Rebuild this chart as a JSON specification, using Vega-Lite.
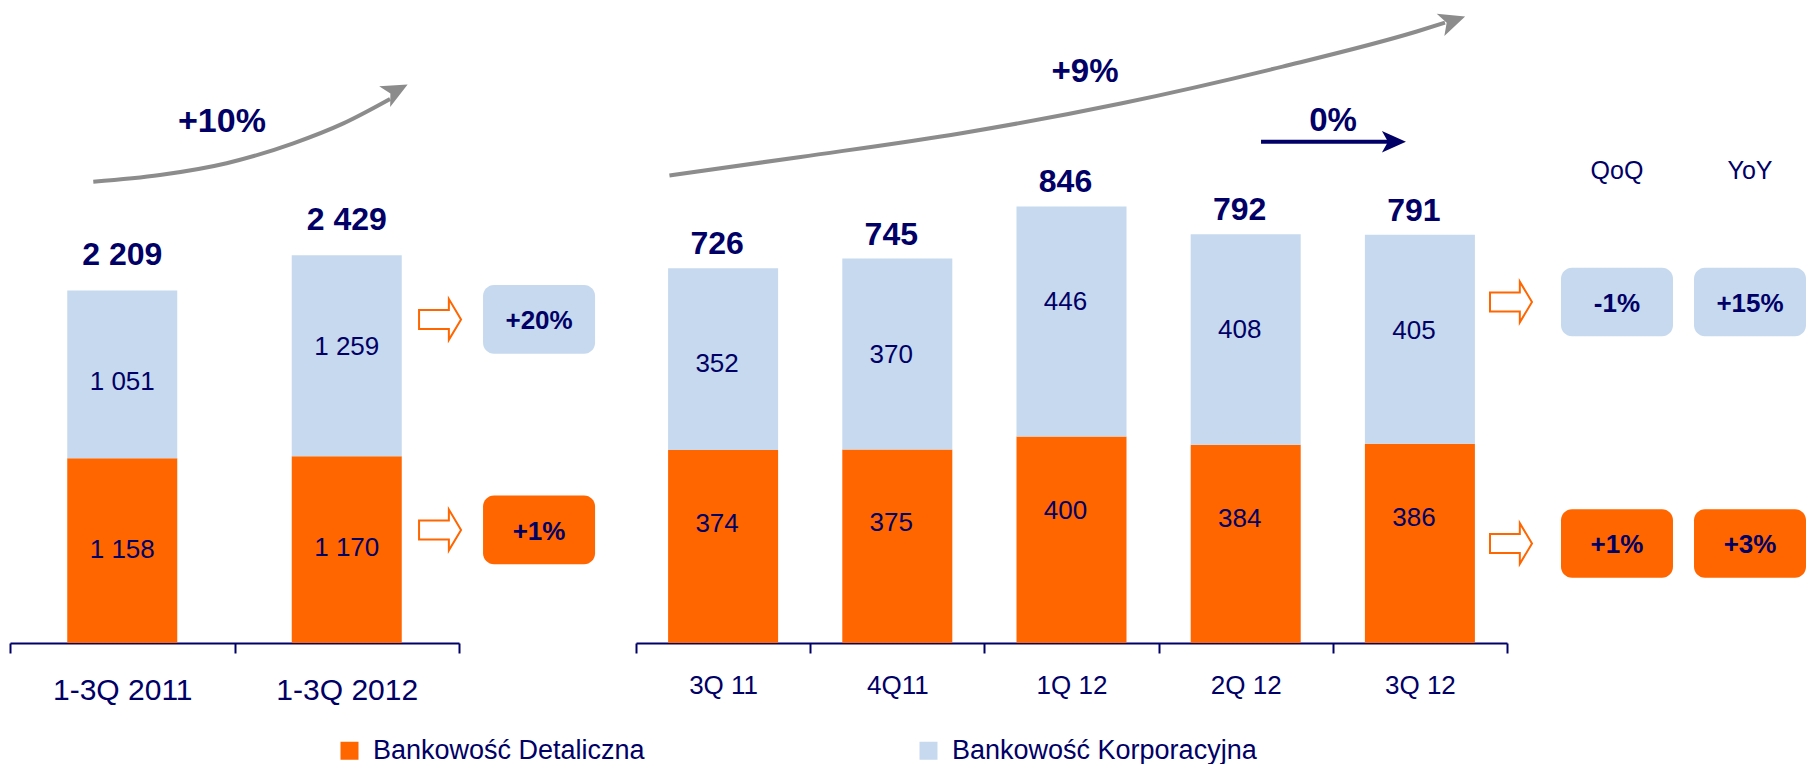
{
  "$schema": "https://vega.github.io/schema/vega-lite/v6.json",
  "background": "white",
  "padding": {"left": 9, "top": 0, "right": 0, "bottom": 0},
  "spacing": 150,
  "bounds": "flush",
  "resolve": {"scale": {"x": "independent", "y": "independent", "color": "shared"}},
  "config": {
    "view": {"stroke": null},
    "font": "Liberation Sans",
    "locale": {"number": {"decimal": ",", "thousands": " ", "grouping": [3], "currency": ["", " zł"]}},
    "legend": {
      "symbolType": "square",
      "symbolSize": 324,
      "symbolStrokeWidth": 0,
      "labelFont": "Liberation Sans",
      "labelFontSize": 27,
      "labelColor": "#000066",
      "labelOffset": 10,
      "columnPadding": 270,
      "labelLimit": 0,
      "padding": 0
    }
  },
  "datasets": {
    "narastajaco": [
      {"okres": "1-3Q 2011", "segment": "Bankowość Detaliczna", "wartosc": 1158},
      {"okres": "1-3Q 2011", "segment": "Bankowość Korporacyjna", "wartosc": 1051},
      {"okres": "1-3Q 2012", "segment": "Bankowość Detaliczna", "wartosc": 1170},
      {"okres": "1-3Q 2012", "segment": "Bankowość Korporacyjna", "wartosc": 1259}
    ],
    "kwartalnie": [
      {"okres": "3Q 11", "segment": "Bankowość Detaliczna", "wartosc": 374},
      {"okres": "3Q 11", "segment": "Bankowość Korporacyjna", "wartosc": 352},
      {"okres": "4Q11", "segment": "Bankowość Detaliczna", "wartosc": 375},
      {"okres": "4Q11", "segment": "Bankowość Korporacyjna", "wartosc": 370},
      {"okres": "1Q 12", "segment": "Bankowość Detaliczna", "wartosc": 400},
      {"okres": "1Q 12", "segment": "Bankowość Korporacyjna", "wartosc": 446},
      {"okres": "2Q 12", "segment": "Bankowość Detaliczna", "wartosc": 384},
      {"okres": "2Q 12", "segment": "Bankowość Korporacyjna", "wartosc": 408},
      {"okres": "3Q 12", "segment": "Bankowość Detaliczna", "wartosc": 386},
      {"okres": "3Q 12", "segment": "Bankowość Korporacyjna", "wartosc": 405}
    ],
    "zmiana_narastajaco": [
      {"kolumna": "1-3Q 2012 / 1-3Q 2011", "segment": "Bankowość Korporacyjna", "zmiana": "+20%"},
      {"kolumna": "1-3Q 2012 / 1-3Q 2011", "segment": "Bankowość Detaliczna", "zmiana": "+1%"}
    ],
    "zmiana_kwartalna": [
      {"kolumna": "QoQ", "segment": "Bankowość Korporacyjna", "zmiana": "-1%"},
      {"kolumna": "YoY", "segment": "Bankowość Korporacyjna", "zmiana": "+15%"},
      {"kolumna": "QoQ", "segment": "Bankowość Detaliczna", "zmiana": "+1%"},
      {"kolumna": "YoY", "segment": "Bankowość Detaliczna", "zmiana": "+3%"}
    ],
    "naglowki": [
      {"kolumna": "QoQ", "segment": "Bankowość Korporacyjna"},
      {"kolumna": "YoY", "segment": "Bankowość Korporacyjna"}
    ],
    "luk_narastajaco": [
      {"t": 0.371, "v": 2890},
      {"t": 0.668, "v": 2932},
      {"t": 0.965, "v": 3006},
      {"t": 1.262, "v": 3131},
      {"t": 1.485, "v": 3256},
      {"t": 1.693, "v": 3409}
    ],
    "grot_narastajaco": [{"t": 1.72, "v": 3462}],
    "etykieta_narastajaco": [{"t": 0.944, "v": 3264, "tekst": "+10%"}],
    "luk_kwartalny": [
      {"t": 0.192, "v": 906},
      {"t": 0.945, "v": 942},
      {"t": 1.868, "v": 988},
      {"t": 2.79, "v": 1046},
      {"t": 3.712, "v": 1117},
      {"t": 4.482, "v": 1185},
      {"t": 4.644, "v": 1202}
    ],
    "grot_kwartalny": [{"t": 4.689, "v": 1206}],
    "etykieta_kwartalna": [{"t": 2.578, "v": 1107, "tekst": "+9%"}],
    "strzalka_qoq": [{"t": 3.588, "t2": 4.33, "v": 971.5}],
    "grot_qoq": [{"t": 4.351, "v": 971.5}],
    "etykieta_qoq": [{"t": 4.001, "v": 1012, "tekst": "0%"}]
  },
  "vconcat": [
    {
      "spacing": 177,
      "bounds": "flush",
      "resolve": {"scale": {"x": "independent", "y": "independent"}},
      "hconcat": [
        {
          "width": 449,
          "height": 150,
          "encoding": {
            "x": {"field": "t", "type": "quantitative", "scale": {"domain": [0, 2], "nice": false, "zero": false}, "axis": null},
            "y": {"field": "v", "type": "quantitative", "scale": {"domain": [3089, 4030], "nice": false, "zero": false}, "axis": null}
          },
          "layer": [
            {"data": {"name": "luk_narastajaco"}, "mark": {"type": "line", "interpolate": "monotone", "color": "#8C8C8C", "strokeWidth": 4}, "encoding": {}},
            {"data": {"name": "grot_narastajaco"}, "mark": {"type": "point", "shape": "M1,0L-1,-0.9L-0.5,0L-1,0.9Z", "size": 676, "filled": true, "color": "#8C8C8C", "opacity": 1, "angle": -28, "strokeWidth": 0}, "encoding": {}},
            {"data": {"name": "etykieta_narastajaco"}, "mark": {"type": "text", "baseline": "middle", "fontSize": 34, "fontWeight": "bold", "color": "#000066"}, "encoding": {"text": {"field": "tekst"}}}
          ]
        },
        {
          "width": 871,
          "height": 150,
          "encoding": {
            "x": {"field": "t", "type": "quantitative", "scale": {"domain": [0, 5], "nice": false, "zero": false}, "axis": null},
            "y": {"field": "v", "type": "quantitative", "scale": {"domain": [955.4, 1246], "nice": false, "zero": false}, "axis": null}
          },
          "layer": [
            {"data": {"name": "luk_kwartalny"}, "mark": {"type": "line", "interpolate": "monotone", "color": "#8C8C8C", "strokeWidth": 4}, "encoding": {}},
            {"data": {"name": "grot_kwartalny"}, "mark": {"type": "point", "shape": "M1,0L-1,-0.9L-0.5,0L-1,0.9Z", "size": 676, "filled": true, "color": "#8C8C8C", "opacity": 1, "angle": -19, "strokeWidth": 0}, "encoding": {}},
            {"data": {"name": "etykieta_kwartalna"}, "mark": {"type": "text", "baseline": "middle", "fontSize": 33, "fontWeight": "bold", "color": "#000066"}, "encoding": {"text": {"field": "tekst"}}},
            {"data": {"name": "strzalka_qoq"}, "mark": {"type": "rule", "color": "#000066", "strokeWidth": 4}, "encoding": {"x2": {"field": "t2"}}},
            {"data": {"name": "grot_qoq"}, "mark": {"type": "point", "shape": "M1,0L-1,-0.9L-0.5,0L-1,0.9Z", "size": 576, "filled": true, "color": "#000066", "opacity": 1, "strokeWidth": 0}, "encoding": {}},
            {"data": {"name": "etykieta_qoq"}, "mark": {"type": "text", "baseline": "middle", "fontSize": 33, "fontWeight": "bold", "color": "#000066"}, "encoding": {"text": {"field": "tekst"}}}
          ]
        }
      ]
    },
    {
      "spacing": 0,
      "bounds": "flush",
      "resolve": {"scale": {"x": "independent", "y": "independent", "color": "shared"}},
      "hconcat": [
        {
          "width": 449,
          "height": 493,
          "data": {"name": "narastajaco"},
          "transform": [
            {"stack": "wartosc", "groupby": ["okres"], "sort": [{"field": "segment", "order": "ascending"}], "as": ["dol", "gora"]}
          ],
          "encoding": {
            "x": {
              "field": "okres", "type": "nominal", "sort": null,
              "scale": {"paddingInner": 0, "paddingOuter": 0},
              "axis": {
                "title": null, "orient": "bottom", "tickBand": "extent", "labelAngle": 0,
                "domainColor": "#000066", "domainWidth": 2,
                "tickColor": "#000066", "tickWidth": 2, "tickSize": 10,
                "labelFont": "Liberation Sans", "labelFontSize": 30, "labelColor": "#000066", "labelPadding": 22
              }
            }
          },
          "layer": [
            {
              "mark": {"type": "bar", "width": {"band": 0.49}},
              "encoding": {
                "y": {"field": "dol", "type": "quantitative", "scale": {"domain": [0, 3089], "nice": false}, "axis": null},
                "y2": {"field": "gora"},
                "color": {
                  "field": "segment", "type": "nominal",
                  "scale": {"domain": ["Bankowość Detaliczna", "Bankowość Korporacyjna"], "range": ["#FF6600", "#C6D9EE"]},
                  "legend": {"title": null, "orient": "none", "legendX": 326, "legendY": 737, "direction": "horizontal", "columns": 2}
                }
              }
            },
            {
              "mark": {"type": "text", "baseline": "middle", "dy": 92, "fontSize": 26, "color": "#000066"},
              "encoding": {
                "y": {"field": "gora", "type": "quantitative"},
                "text": {"field": "wartosc", "type": "quantitative", "format": ",d"}
              }
            },
            {
              "transform": [{"filter": {"field": "segment", "equal": "Bankowość Korporacyjna"}}],
              "mark": {"type": "text", "baseline": "middle", "dy": -35, "fontSize": 32, "fontWeight": "bold", "color": "#000066"},
              "encoding": {
                "y": {"field": "gora", "type": "quantitative"},
                "text": {"field": "gora", "type": "quantitative", "format": ",d"}
              }
            }
          ]
        },
        {
          "width": 177,
          "height": 493,
          "data": {"name": "zmiana_narastajaco"},
          "encoding": {
            "x": {"field": "kolumna", "type": "nominal", "scale": {"paddingInner": 0, "paddingOuter": 0.29, "align": 0.37}, "axis": null},
            "y": {"field": "segment", "type": "nominal", "scale": {"domain": ["Bankowość Korporacyjna", "Bankowość Detaliczna"], "paddingInner": 0.673, "paddingOuter": 0.5075, "align": 0.632}, "axis": null}
          },
          "layer": [
            {
              "mark": {"type": "rect", "cornerRadius": 11},
              "encoding": {
                "color": {
                  "field": "segment", "type": "nominal",
                  "scale": {"domain": ["Bankowość Detaliczna", "Bankowość Korporacyjna"], "range": ["#FF6600", "#C6D9EE"]},
                  "legend": {"title": null, "orient": "none", "legendX": 326, "legendY": 737, "direction": "horizontal", "columns": 2}
                }
              }
            },
            {"mark": {"type": "text", "fontSize": 26, "fontWeight": "bold", "color": "#000066", "dy": 2}, "encoding": {"text": {"field": "zmiana"}}},
            {"mark": {"type": "point", "shape": "M-1,-0.45L0.42,-0.45L0.42,-0.97L1,0L0.42,0.97L0.42,0.45L-1,0.45Z", "size": 1764, "filled": false, "color": "#FF6600", "strokeWidth": 2, "opacity": 1, "xOffset": -99}, "encoding": {}}
          ]
        },
        {
          "width": 871,
          "height": 493,
          "data": {"name": "kwartalnie"},
          "transform": [
            {"stack": "wartosc", "groupby": ["okres"], "sort": [{"field": "segment", "order": "ascending"}], "as": ["dol", "gora"]}
          ],
          "encoding": {
            "x": {
              "field": "okres", "type": "nominal", "sort": null,
              "scale": {"paddingInner": 0, "paddingOuter": 0},
              "axis": {
                "title": null, "orient": "bottom", "tickBand": "extent", "labelAngle": 0,
                "domainColor": "#000066", "domainWidth": 2,
                "tickColor": "#000066", "tickWidth": 2, "tickSize": 10,
                "labelFont": "Liberation Sans", "labelFontSize": 26, "labelColor": "#000066", "labelPadding": 19
              }
            }
          },
          "layer": [
            {
              "mark": {"type": "bar", "width": {"band": 0.6315}},
              "encoding": {
                "y": {"field": "dol", "type": "quantitative", "scale": {"domain": [0, 955.4], "nice": false}, "axis": null},
                "y2": {"field": "gora"},
                "color": {
                  "field": "segment", "type": "nominal",
                  "scale": {"domain": ["Bankowość Detaliczna", "Bankowość Korporacyjna"], "range": ["#FF6600", "#C6D9EE"]},
                  "legend": {"title": null, "orient": "none", "legendX": 326, "legendY": 737, "direction": "horizontal", "columns": 2}
                }
              }
            },
            {
              "transform": [{"filter": {"field": "segment", "equal": "Bankowość Detaliczna"}}],
              "mark": {"type": "text", "baseline": "middle", "dy": 74, "dx": -6, "fontSize": 26, "color": "#000066"},
              "encoding": {
                "y": {"field": "gora", "type": "quantitative"},
                "text": {"field": "wartosc", "type": "quantitative", "format": ",d"}
              }
            },
            {
              "transform": [{"filter": {"field": "segment", "equal": "Bankowość Korporacyjna"}}],
              "mark": {"type": "text", "baseline": "middle", "dy": 96, "dx": -6, "fontSize": 26, "color": "#000066"},
              "encoding": {
                "y": {"field": "gora", "type": "quantitative"},
                "text": {"field": "wartosc", "type": "quantitative", "format": ",d"}
              }
            },
            {
              "transform": [{"filter": {"field": "segment", "equal": "Bankowość Korporacyjna"}}],
              "mark": {"type": "text", "baseline": "middle", "dy": -24, "dx": -6, "fontSize": 32, "fontWeight": "bold", "color": "#000066"},
              "encoding": {
                "y": {"field": "gora", "type": "quantitative"},
                "text": {"field": "gora", "type": "quantitative", "format": ",d"}
              }
            }
          ]
        },
        {
          "width": 299,
          "height": 493,
          "data": {"name": "zmiana_kwartalna"},
          "encoding": {
            "x": {"field": "kolumna", "type": "nominal", "scale": {"domain": ["QoQ", "YoY"], "paddingInner": 0.158, "paddingOuter": 0.203, "align": 1}, "axis": null},
            "y": {"field": "segment", "type": "nominal", "scale": {"domain": ["Bankowość Korporacyjna", "Bankowość Detaliczna"], "paddingInner": 0.716, "paddingOuter": 0.3787, "align": 0.6435}, "axis": null}
          },
          "layer": [
            {
              "mark": {"type": "rect", "cornerRadius": 11},
              "encoding": {
                "color": {
                  "field": "segment", "type": "nominal",
                  "scale": {"domain": ["Bankowość Detaliczna", "Bankowość Korporacyjna"], "range": ["#FF6600", "#C6D9EE"]},
                  "legend": {"title": null, "orient": "none", "legendX": 326, "legendY": 737, "direction": "horizontal", "columns": 2}
                }
              }
            },
            {
              "mark": {"type": "text", "fontSize": 26, "fontWeight": "bold", "color": "#000066", "dy": 2},
              "encoding": {"text": {"field": "zmiana"}}
            },
            {
              "transform": [{"filter": {"field": "kolumna", "equal": "QoQ"}}],
              "mark": {"type": "point", "shape": "M-1,-0.45L0.42,-0.45L0.42,-0.97L1,0L0.42,0.97L0.42,0.45L-1,0.45Z", "size": 1764, "filled": false, "color": "#FF6600", "strokeWidth": 2, "opacity": 1, "xOffset": -106},
              "encoding": {}
            },
            {
              "data": {"name": "naglowki"},
              "mark": {"type": "text", "fontSize": 25, "color": "#000066", "dy": -131},
              "encoding": {"text": {"field": "kolumna"}}
            }
          ]
        }
      ]
    }
  ]
}
